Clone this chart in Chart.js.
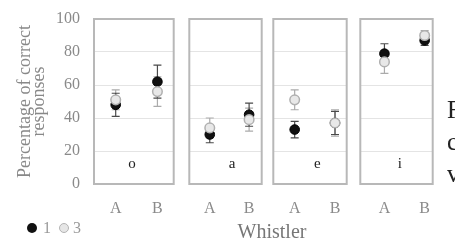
<!DOCTYPE html>
<html lang="en">
<head>
  <meta charset="UTF-8" />
  <title>Percentage of correct responses by whistler</title>
  <script src="https://cdn.jsdelivr.net/npm/chart.js"></script>
  <style>
    * { margin: 0; padding: 0; box-sizing: border-box; }
    body {
      width: 455px; height: 246px;
      background: #fff;
      position: relative;
      overflow: hidden;
      font-family: 'Liberation Serif', 'DejaVu Serif', serif;
    }
    canvas { position: absolute; top: 0; }
    .legend {
      position: absolute; left: 27px; top: 219px;
      font-size: 16px; color: #9a9a9a;
      display: flex; align-items: center;
    }
    .dot {
      display: inline-block; width: 10px; height: 10px; border-radius: 50%;
    }
    .dot.s1 { background: #111; margin-right: 6px; }
    .dot.s3 { background: #e6e6e6; border: 1.5px solid #b3b3b3; margin-left: 8px; margin-right: 4px; }
    .xtitle {
      position: absolute; left: 222px; width: 100px; top: 220px;
      text-align: center; font-size: 20px; color: #777;
    }
    .bodytext {
      position: absolute; left: 447px; top: 94px;
      font-size: 25px; line-height: 32px; color: #222;
    }
  </style>
</head>
<body>
  <canvas id="p0" width="180" height="246" style="left:0px"></canvas>
  <canvas id="p1" width="85" height="246" style="left:183px"></canvas>
  <canvas id="p2" width="86" height="246" style="left:267px"></canvas>
  <canvas id="p3" width="85" height="246" style="left:354px"></canvas>

  <div class="legend"><span class="dot s1"></span>1<span class="dot s3"></span>3</div>
  <div class="xtitle">Whistler</div>
  <div class="bodytext">F<br>c<br>v</div>

  <script>
    // data
    const vowels = ['o', 'a', 'e', 'i'];
    const whistlers = ['A', 'B'];
    const yTicks = [0, 20, 40, 60, 80, 100];

    // series "1" (black)
    const mean1 = [[48, 62], [30, 42], [33, 37], [79, 87]];
    const err1  = [[7, 10], [5, 7], [5, 7], [6, 3]];
    // series "3" (light grey)
    const mean3 = [[51, 56], [34, 39], [51, 37], [74, 90]];
    const err3  = [[6, 9], [6, 7], [6, 8], [7, 3]];

    // panel layout (x range so A/B land where they do in the figure)
    const xMin = [-0.52, -0.52, -0.53, -0.6];
    const xMax = [1.39, 1.32, 1.29, 1.2];
    const letterX = [0.39, 0.57, 0.56, 0.38];
    const letterY = 12;

    const serif = "'Liberation Serif', 'DejaVu Serif', serif";

    const panelPlugin = {
      id: 'panel',
      beforeDatasetsDraw(chart) {
        const ctx = chart.ctx;
        const x = chart.scales.x, y = chart.scales.y;
        ctx.save();
        chart.data.datasets.forEach(ds => {
          ctx.strokeStyle = ds.errColor;
          ctx.lineWidth = 1.2;
          ds.data.forEach((pt, i) => {
            const px = x.getPixelForValue(pt.x);
            const top = y.getPixelForValue(pt.y + ds.err[i]);
            const bot = y.getPixelForValue(pt.y - ds.err[i]);
            ctx.beginPath();
            ctx.moveTo(px, top); ctx.lineTo(px, bot);
            ctx.moveTo(px - 4, top); ctx.lineTo(px + 4, top);
            ctx.moveTo(px - 4, bot); ctx.lineTo(px + 4, bot);
            ctx.stroke();
          });
        });
        ctx.restore();
      },
      afterDraw(chart, args, opts) {
        const ctx = chart.ctx;
        const a = chart.chartArea;
        ctx.save();
        ctx.strokeStyle = '#b8b8b8';
        ctx.lineWidth = 2;
        ctx.strokeRect(a.left, a.top, a.right - a.left, a.bottom - a.top);
        ctx.fillStyle = '#222';
        ctx.font = '15px ' + serif;
        ctx.textAlign = 'center';
        ctx.textBaseline = 'middle';
        ctx.fillText(opts.letter,
          chart.scales.x.getPixelForValue(opts.lx),
          chart.scales.y.getPixelForValue(letterY));
        ctx.restore();
      }
    };

    function makePanel(p) {
      const first = p === 0;
      const pts = (means) => whistlers.map((w, i) => ({ x: i, y: means[p][i] }));
      return new Chart(document.getElementById('p' + p), {
        type: 'scatter',
        data: {
          datasets: [
            {
              label: '3', data: pts(mean3), err: err3[p], errColor: '#ababab', order: 0,
              pointRadius: 4.8, backgroundColor: '#e8e8e8', borderColor: '#b0b0b0', borderWidth: 1.5
            },
            {
              label: '1', data: pts(mean1), err: err1[p], errColor: '#4a4a4a', order: 1,
              pointRadius: 4.8, backgroundColor: '#111', borderColor: '#000', borderWidth: 1
            }
          ]
        },
        options: {
          responsive: false,
          animation: false,
          devicePixelRatio: 1,
          layout: { padding: { top: 19, right: 2, left: first ? 0 : 2, bottom: 0 } },
          plugins: {
            legend: { display: false },
            tooltip: { enabled: false },
            panel: { letter: vowels[p], lx: letterX[p] }
          },
          scales: {
            x: {
              type: 'linear', min: xMin[p], max: xMax[p],
              afterBuildTicks: s => { s.ticks = whistlers.map((w, i) => ({ value: i })); },
              afterFit: s => { s.height = 62; },
              grid: { display: false },
              border: { display: false },
              ticks: {
                callback: v => whistlers[v],
                padding: 7, color: '#8a8a8a',
                font: { family: serif, size: 16 }
              }
            },
            y: {
              min: 0, max: 100,
              afterBuildTicks: s => { s.ticks = yTicks.map(v => ({ value: v })); },
              afterFit: s => {
                s.width = first ? 94 : 0;
                s.paddingTop = 10; s.paddingBottom = 10;
              },
              grid: { color: '#e4e4e4', lineWidth: 1, drawTicks: false },
              border: { display: false },
              ticks: {
                display: first, padding: 14, color: '#8a8a8a',
                font: { family: serif, size: 16 }
              },
              title: {
                display: first,
                text: ['Percentage of correct', 'responses'],
                color: '#888',
                font: { family: serif, size: 18, lineHeight: 0.78 },
                padding: { top: 18, bottom: 0 }
              }
            }
          }
        },
        plugins: [panelPlugin]
      });
    }

    vowels.forEach((v, p) => makePanel(p));
  </script>
</body>
</html>
